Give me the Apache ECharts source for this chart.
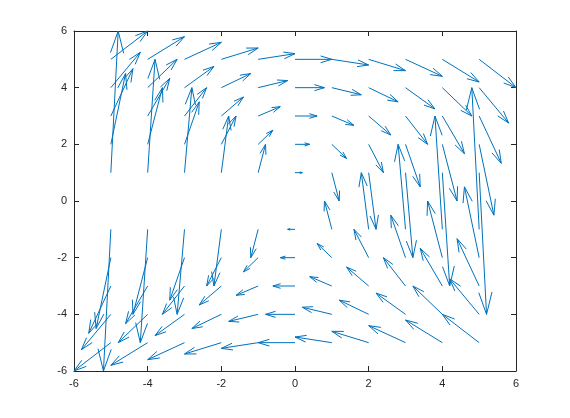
<!DOCTYPE html>
<html>
<head>
<meta charset="utf-8">
<script src="https://cdn.jsdelivr.net/npm/echarts@6/dist/echarts.min.js"></script>
<style>
html,body{margin:0;padding:0;background:#fff;}
#chart{width:570px;height:418px;}
</style>
</head>
<body>
<div id="chart"></div>
<script>
// Grid positions of the arrows (row y = 0 has no arrows)
var xs = [-5, -4, -3, -2, -1, 0, 1, 2, 3, 4, 5];
var ys = [-5, -4, -3, -2, -1, 1, 2, 3, 4, 5];

// Horizontal components, one row per y value in ys
var uRows = [
  [-1, -1, -1, -1, -1, -1, -1, -1, -1, -1, -1],
  [-0.8, -0.8, -0.8, -0.8, -0.8, -0.8, -0.8, -0.8, -0.8, -0.8, -0.8],
  [-0.6, -0.6, -0.6, -0.6, -0.6, -0.6, -0.6, -0.6, -0.6, -0.6, -0.6],
  [-0.4, -0.4, -0.4, -0.4, -0.4, -0.4, -0.4, -0.4, -0.4, -0.4, -0.4],
  [-0.2, -0.2, -0.2, -0.2, -0.2, -0.2, -0.2, -0.2, -0.2, -0.2, -0.2],
  [0.2, 0.2, 0.2, 0.2, 0.2, 0.2, 0.2, 0.2, 0.2, 0.2, 0.2],
  [0.4, 0.4, 0.4, 0.4, 0.4, 0.4, 0.4, 0.4, 0.4, 0.4, 0.4],
  [0.6, 0.6, 0.6, 0.6, 0.6, 0.6, 0.6, 0.6, 0.6, 0.6, 0.6],
  [0.8, 0.8, 0.8, 0.8, 0.8, 0.8, 0.8, 0.8, 0.8, 0.8, 0.8],
  [1, 1, 1, 1, 1, 1, 1, 1, 1, 1, 1]
];

// Vertical components, one row per y value in ys
var vRows = [
  [-1, -0.8, -0.6, -0.4, -0.2, 0, 0.2, 0.4, 0.6, 0.8, 1],
  [-1.25, -1, -0.75, -0.5, -0.25, 0, 0.25, 0.5, 0.75, 1, 1.25],
  [-1.67, -1.33, -1, -0.67, -0.33, 0, 0.33, 0.67, 1, 1.33, 1.67],
  [-2.5, -2, -1.5, -1, -0.5, 0, 0.5, 1, 1.5, 2, 2.5],
  [-5, -4, -3, -2, -1, 0, 1, 2, 3, 4, 5],
  [5, 4, 3, 2, 1, 0, -1, -2, -3, -4, -5],
  [2.5, 2, 1.5, 1, 0.5, 0, -0.5, -1, -1.5, -2, -2.5],
  [1.67, 1.33, 1, 0.67, 0.33, 0, -0.33, -0.67, -1, -1.33, -1.67],
  [1.25, 1, 0.75, 0.5, 0.25, 0, -0.25, -0.5, -0.75, -1, -1.25],
  [1, 0.8, 0.6, 0.4, 0.2, 0, -0.2, -0.4, -0.6, -0.8, -1]
];

var tickValues = [-6, -4, -2, 0, 2, 4, 6];

var data = [];
for (var r = 0; r < ys.length; r++) {
  for (var c = 0; c < xs.length; c++) {
    data.push([xs[c], ys[r], uRows[r][c], vRows[r][c]]);
  }
}

var lineColor = '#0072BD';
var axisColor = '#262626';
var fontFam = '"Liberation Sans", Arial, Helvetica, sans-serif';

function renderArrow(params, api) {
  var x = api.value(0), y = api.value(1), u = api.value(2), v = api.value(3);
  var p0 = api.coord([x, y]);
  var p1 = api.coord([x + u, y + v]);
  var dx = p1[0] - p0[0], dy = p1[1] - p0[1];
  var L = Math.sqrt(dx * dx + dy * dy);
  var children = [{
    type: 'polyline',
    shape: { points: [p0, p1] },
    style: { stroke: lineColor, lineWidth: 1, fill: null }
  }];
  if (L > 0.5) {
    var h = Math.min(1.85 * Math.sqrt(L), 0.35 * L);
    var w = 0.3 * h;
    var ux = dx / L, uy = dy / L;
    var px = -uy, py = ux;
    var b = [p1[0] - h * ux, p1[1] - h * uy];
    children.push({
      type: 'polyline',
      shape: { points: [[b[0] + w * px, b[1] + w * py], p1, [b[0] - w * px, b[1] - w * py]] },
      style: { stroke: lineColor, lineWidth: 1, fill: null }
    });
  }
  return { type: 'group', children: children };
}

var chart = echarts.init(document.getElementById('chart'), null, { renderer: 'canvas' });

function axisCommon(show) {
  return {
    type: 'value', min: -6, max: 6, interval: 2,
    splitLine: { show: false },
    axisLine: { show: true, onZero: false, lineStyle: { color: axisColor, width: 1 } },
    axisTick: { show: true, inside: true, length: 5, lineStyle: { color: axisColor } },
    axisLabel: {
      show: show, color: axisColor, fontSize: 11, fontFamily: fontFam, margin: 7,
      formatter: function (val) { return String(val); }
    }
  };
}

var xBottom = axisCommon(true); xBottom.position = 'bottom';
var xTop = axisCommon(false); xTop.position = 'top';
var yLeft = axisCommon(true); yLeft.position = 'left';
var yRight = axisCommon(false); yRight.position = 'right';

chart.setOption({
  animation: false,
  backgroundColor: '#ffffff',
  grid: { left: 74, top: 31, width: 442, height: 340, containLabel: false },
  xAxis: [xBottom, xTop],
  yAxis: [yLeft, yRight],
  series: [{
    type: 'custom',
    xAxisIndex: 0,
    yAxisIndex: 0,
    renderItem: renderArrow,
    data: data,
    clip: false,
    silent: true
  }]
});
</script>
</body>
</html>
